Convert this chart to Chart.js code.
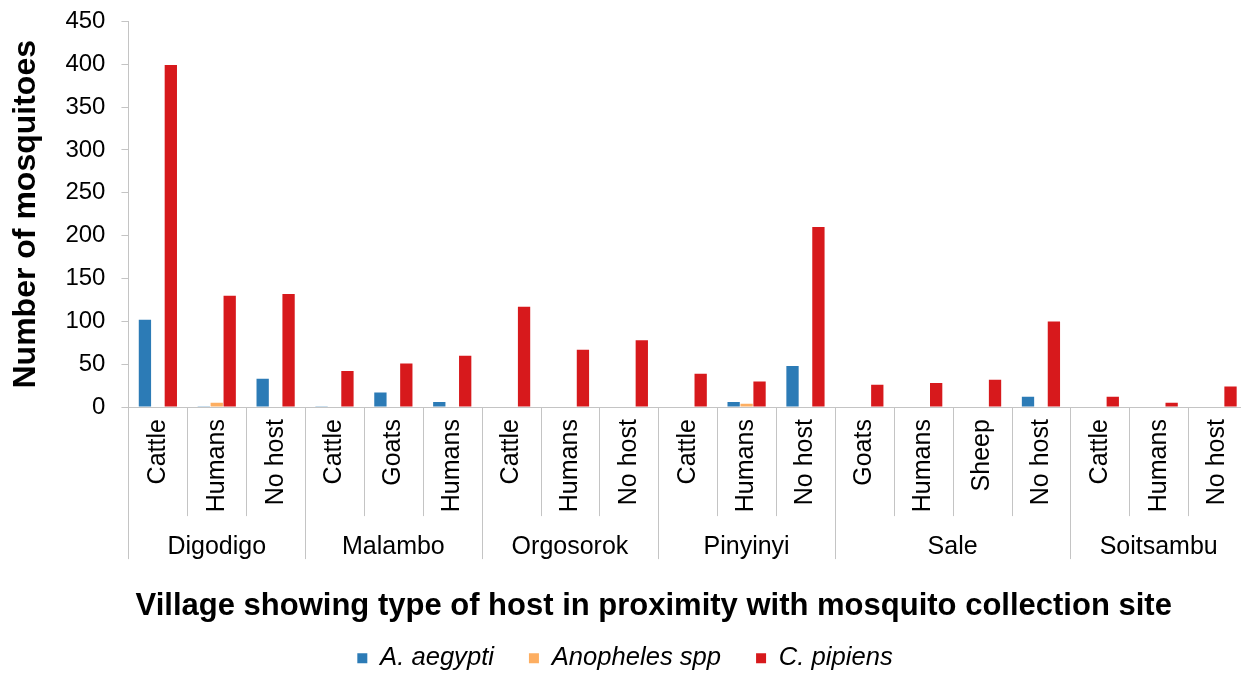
<!DOCTYPE html>
<html>
<head>
<meta charset="utf-8">
<script src="https://cdn.jsdelivr.net/npm/chart.js@4"></script>
<style>
  html, body { margin: 0; padding: 0; background: #fff; overflow: hidden; }
  #wrap { width: 1241px; height: 673px; overflow: hidden; }
  #chart { display: block; margin-top: -9px; }
</style>
</head>
<body>
<div id="wrap"><canvas id="chart" width="1259" height="690"></canvas></div>
<script>
// villages and the hosts found near each collection site
const villages = ["Digodigo", "Malambo", "Orgosorok", "Pinyinyi", "Sale", "Soitsambu"];
const villageSizes = [3, 3, 3, 3, 4, 3];
const hosts = [
    "Cattle", "Humans", "No host",
    "Cattle", "Goats", "Humans",
    "Cattle", "Humans", "No host",
    "Cattle", "Humans", "No host",
    "Goats", "Humans", "Sheep", "No host",
    "Cattle", "Humans", "No host"
];

const aegypti   = [102, 1, 33,  1, 17, 6,  0, 0, 0,  0, 6, 48,  0, 0, 0, 12,  0, 0, 0];
const anopheles = [0, 5, 0,     0, 0, 0,   0, 0, 0,  0, 4, 0,   0, 0, 0, 0,   0, 0, 0];
const pipiens   = [399, 130, 132,  42, 51, 60,  117, 67, 78,  39, 30, 210,  26, 28, 32, 100,  12, 5, 24];

const yTicks = [0, 50, 100, 150, 200, 250, 300, 350, 400, 450];

const xTitle = "Village showing type of host in proximity with mosquito collection site";
const fontFamily = "'Liberation Sans', Arial, Helvetica, sans-serif";
const axisGray = "#c4c4c4";

// separators under the x axis, village names and the x title
const villageGroups = {
    id: "villageGroups",
    afterDraw(chart) {
        const ctx = chart.ctx;
        const xs = chart.scales.x;
        const area = chart.chartArea;
        const w = (area.right - area.left) / hosts.length;
        const edge = i => xs.getPixelForValue(i) - w / 2;

        const starts = [0];
        villageSizes.forEach(n => starts.push(starts[starts.length - 1] + n));

        ctx.save();
        ctx.strokeStyle = axisGray;
        ctx.lineWidth = 1;
        for (let i = 0; i <= hosts.length; i++) {
            const isVillageEdge = starts.includes(i);
            const x = Math.round(edge(i)) + 0.5;
            ctx.beginPath();
            ctx.moveTo(x, area.bottom);
            ctx.lineTo(x, area.bottom + (isVillageEdge ? 152 : 109));
            ctx.stroke();
        }

        ctx.fillStyle = "#000";
        ctx.font = "25px " + fontFamily;
        ctx.textAlign = "center";
        ctx.textBaseline = "alphabetic";
        villages.forEach((name, k) => {
            const cx = (edge(starts[k]) + edge(starts[k + 1])) / 2;
            ctx.fillText(name, cx, area.bottom + 147);
        });

        ctx.font = "bold 31px " + fontFamily;
        ctx.textBaseline = "middle";
        ctx.fillText(xTitle, (area.left + area.right) / 2 - 34, area.bottom + 199);
        ctx.restore();
    }
};

new Chart(document.getElementById("chart"), {
    type: "bar",
    data: {
        labels: hosts,
        datasets: [
            { label: "A. aegypti", data: aegypti, backgroundColor: "#2c7bb6" },
            { label: "Anopheles spp", data: anopheles, backgroundColor: "#fdae61" },
            { label: "C. pipiens", data: pipiens, backgroundColor: "#d7191c" }
        ]
    },
    options: {
        responsive: false,
        animation: false,
        layout: { padding: { top: 0, left: 3, right: 12, bottom: 0 } },
        datasets: {
            bar: { categoryPercentage: 0.66, barPercentage: 0.95 }
        },
        plugins: {
            legend: {
                position: "bottom",
                labels: {
                    color: "#000",
                    font: { family: fontFamily, size: 25.6, style: "italic" },
                    boxWidth: 10,
                    boxHeight: 10,
                    padding: 35
                }
            },
            tooltip: { enabled: false }
        },
        scales: {
            x: {
                grid: { display: false },
                border: { display: true, color: axisGray },
                ticks: {
                    color: "#000",
                    font: { family: fontFamily, size: 25 },
                    autoSkip: false,
                    minRotation: 90,
                    maxRotation: 90,
                    padding: 4
                },
                // room for the village row and the title drawn by the plugin
                title: {
                    display: true,
                    text: "",
                    font: { family: fontFamily, size: 31, weight: "bold" },
                    padding: { top: 57, bottom: 0 }
                }
            },
            y: {
                min: 0,
                max: 450,
                afterBuildTicks: scale => {
                    scale.ticks = yTicks.map(v => ({ value: v }));
                },
                grid: {
                    display: true,
                    drawOnChartArea: false,
                    drawTicks: true,
                    tickLength: 7,
                    color: axisGray
                },
                border: { display: true, color: axisGray },
                ticks: {
                    color: "#000",
                    font: { family: fontFamily, size: 24 },
                    padding: 16
                },
                title: {
                    display: true,
                    text: "Number of mosquitoes",
                    color: "#000",
                    font: { family: fontFamily, size: 32, weight: "bold" },
                    padding: { top: 4, bottom: 4 }
                }
            }
        }
    },
    plugins: [villageGroups]
});
</script>
</body>
</html>
